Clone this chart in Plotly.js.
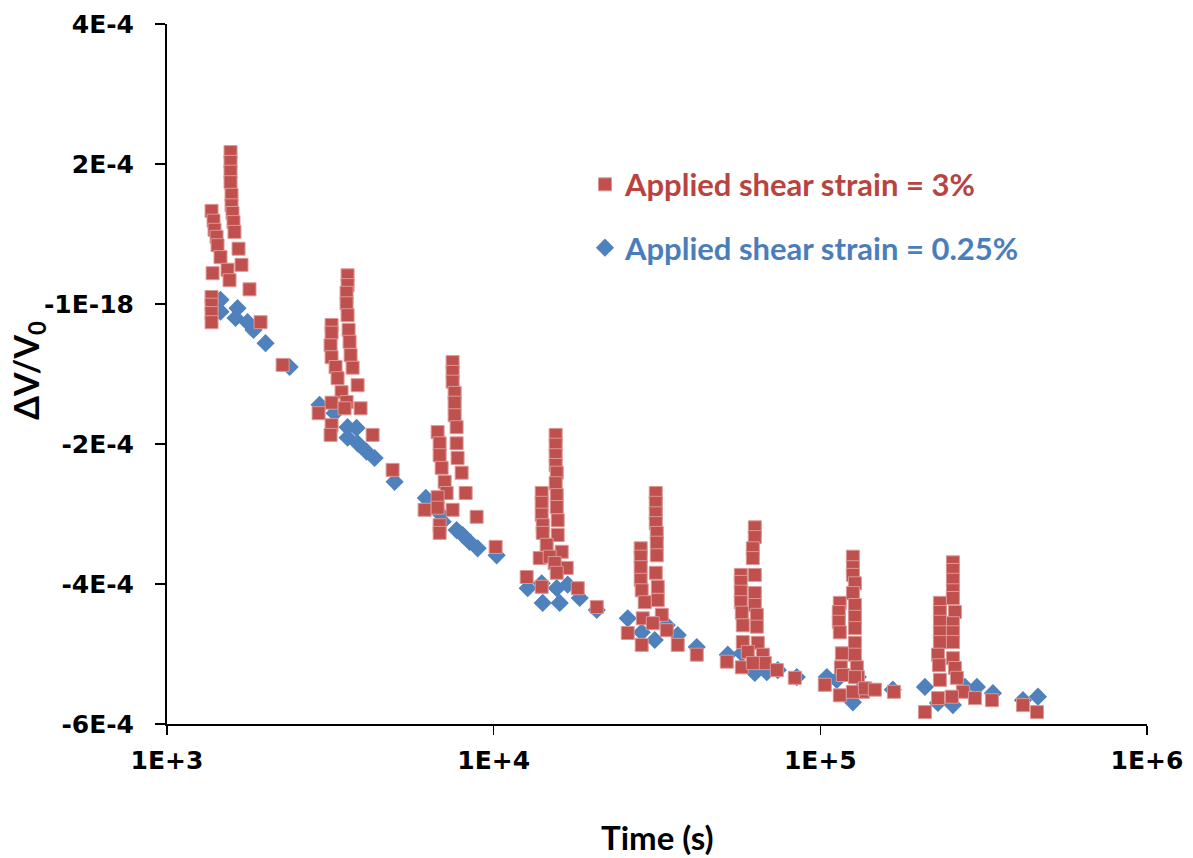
<!DOCTYPE html>
<html>
<head>
<meta charset="utf-8">
<script src="https://cdn.plot.ly/plotly-3.0.1.min.js"></script>
<style>html,body{margin:0;padding:0;background:#fff;}#chart{width:1193px;height:858px;}</style>
</head>
<body>
<div id="chart"></div>
<script>
// Applied shear strain = 3% (red squares): time (s) and dV/V0
const redTime = [
  1565,1565,1565,1565,1576,1576,1587,1598,1609,1656,1691,1789,1934,2259,
  1369,1388,1398,1418,1428,1458,1532,1554,1379,1369,1369,1369,1369,
  3571,3571,3546,3546,3571,3597,3622,3648,3700,3833,
  3190,3190,3168,3190,3281,3328,3423,3190,3546,2911,3496,3914,3190,3168,4260,4905,
  7487,7487,7487,7595,7595,7595,7701,7701,7754,7980,8208,8869,10141,
  6737,6833,6833,6930,7078,7178,6737,6146,6737,7487,6833,6833,
  15480,15480,15480,15480,15596,15480,15596,15596,15704,15704,16155,16735,18089,20680,
  14028,14028,14028,14128,14128,14530,13833,14841,15373,15596,12620,14028,
  31350,31350,31350,31350,31570,31570,31570,31350,31790,31790,32700,33880,
  28190,28190,28190,28190,28390,29000,28600,30690,25730,28390,36600,41850,
  63010,63010,62130,62130,63010,63010,63010,63900,63900,64350,66660,67610,
  57090,57090,57090,57090,57490,57890,57890,59980,51710,57490,62130,73580,83530,
  125800,125800,125800,127600,125800,127600,127600,127600,127600,127600,129400,130300,134980,
  114700,113900,113900,114700,116400,115600,117200,127600,103200,114700,125800,136900,146900,168000,
  254600,254600,254600,254600,254600,258200,254600,254600,254600,254600,258200,261800,
  232300,232300,232300,232300,232300,229100,230700,232300,273200,229100,252800,297300,335200,209000,417200,460400
];
const redDV = [
  2.17e-4,2.03e-4,1.89e-4,1.74e-4,1.56e-4,1.41e-4,1.30e-4,1.17e-4,1.03e-4,0.79e-4,0.56e-4,0.21e-4,-0.26e-4,-0.87e-4,
  1.33e-4,1.19e-4,1.06e-4,0.96e-4,0.84e-4,0.67e-4,0.49e-4,0.34e-4,0.44e-4,0.10e-4,-0.01e-4,-0.13e-4,-0.26e-4,
  0.41e-4,0.27e-4,0.16e-4,0.01e-4,-0.16e-4,-0.37e-4,-0.54e-4,-0.73e-4,-0.91e-4,-1.16e-4,
  -0.30e-4,-0.41e-4,-0.59e-4,-0.76e-4,-0.90e-4,-1.06e-4,-1.26e-4,-1.41e-4,-1.40e-4,-1.56e-4,-1.49e-4,-1.49e-4,-1.73e-4,-1.87e-4,-1.87e-4,-2.37e-4,
  -0.83e-4,-0.97e-4,-1.11e-4,-1.27e-4,-1.41e-4,-1.59e-4,-1.76e-4,-1.99e-4,-2.20e-4,-2.41e-4,-2.70e-4,-3.04e-4,-3.47e-4,
  -1.83e-4,-1.99e-4,-2.16e-4,-2.34e-4,-2.54e-4,-2.70e-4,-2.76e-4,-2.94e-4,-2.91e-4,-2.94e-4,-3.16e-4,-3.27e-4,
  -1.87e-4,-2.01e-4,-2.16e-4,-2.30e-4,-2.41e-4,-2.56e-4,-2.73e-4,-2.90e-4,-3.09e-4,-3.30e-4,-3.54e-4,-3.77e-4,-4.06e-4,-4.33e-4,
  -2.70e-4,-2.84e-4,-3.01e-4,-3.16e-4,-3.27e-4,-3.44e-4,-3.63e-4,-3.61e-4,-3.70e-4,-3.84e-4,-3.90e-4,-4.04e-4,
  -2.70e-4,-2.84e-4,-2.99e-4,-3.13e-4,-3.27e-4,-3.41e-4,-3.59e-4,-3.84e-4,-4.04e-4,-4.23e-4,-4.44e-4,-4.66e-4,
  -3.49e-4,-3.61e-4,-3.76e-4,-3.94e-4,-4.09e-4,-4.26e-4,-4.49e-4,-4.56e-4,-4.70e-4,-4.87e-4,-4.87e-4,-5.01e-4,
  -3.19e-4,-3.33e-4,-3.49e-4,-3.63e-4,-3.87e-4,-4.13e-4,-4.30e-4,-4.44e-4,-4.61e-4,-4.84e-4,-5.01e-4,-5.13e-4,
  -3.87e-4,-3.97e-4,-4.11e-4,-4.26e-4,-4.41e-4,-4.59e-4,-4.83e-4,-4.97e-4,-5.11e-4,-5.19e-4,-5.13e-4,-5.23e-4,-5.34e-4,
  -3.61e-4,-3.76e-4,-3.87e-4,-3.99e-4,-4.13e-4,-4.30e-4,-4.47e-4,-4.63e-4,-4.84e-4,-5.01e-4,-5.19e-4,-5.33e-4,-5.54e-4,
  -4.27e-4,-4.40e-4,-4.54e-4,-4.69e-4,-4.99e-4,-5.19e-4,-5.30e-4,-5.33e-4,-5.44e-4,-5.59e-4,-5.54e-4,-5.49e-4,-5.51e-4,-5.54e-4,
  -3.69e-4,-3.80e-4,-3.94e-4,-4.09e-4,-4.20e-4,-4.40e-4,-4.56e-4,-4.69e-4,-4.83e-4,-5.06e-4,-5.20e-4,-5.34e-4,
  -4.27e-4,-4.40e-4,-4.54e-4,-4.69e-4,-4.83e-4,-5.01e-4,-5.16e-4,-5.37e-4,-5.54e-4,-5.63e-4,-5.61e-4,-5.63e-4,-5.66e-4,-5.83e-4,-5.73e-4,-5.83e-4
];

// Applied shear strain = 0.25% (blue diamonds)
const blueTime = [
  1458,1458,1644,1621,1764,1840,2003,2373,
  2931,3258,3571,3805,3571,3833,4083,4320,4975,6200,
  6833,6980,7701,8035,8443,8933,10214,
  12710,14028,15596,16854,14128,15928,18345,20680,25730,
  28390,31130,33880,36600,41850,52080,
  57490,63010,68560,74100,84720,104700,
  112300,125800,130300,166700,
  209000,229100,254600,277100,301500,337600,417200,463700
];
const blueDV = [
  0.06e-4,-0.11e-4,-0.06e-4,-0.20e-4,-0.26e-4,-0.37e-4,-0.56e-4,-0.90e-4,
  -1.44e-4,-1.56e-4,-1.76e-4,-1.77e-4,-1.91e-4,-1.99e-4,-2.11e-4,-2.20e-4,-2.54e-4,-2.77e-4,
  -2.99e-4,-3.11e-4,-3.23e-4,-3.30e-4,-3.40e-4,-3.49e-4,-3.59e-4,
  -4.06e-4,-3.99e-4,-4.06e-4,-4.01e-4,-4.27e-4,-4.27e-4,-4.20e-4,-4.37e-4,-4.49e-4,
  -4.69e-4,-4.80e-4,-4.59e-4,-4.73e-4,-4.90e-4,-5.01e-4,
  -4.99e-4,-5.27e-4,-5.26e-4,-5.23e-4,-5.33e-4,-5.33e-4,
  -5.37e-4,-5.69e-4,-5.33e-4,-5.51e-4,
  -5.47e-4,-5.70e-4,-5.73e-4,-5.47e-4,-5.47e-4,-5.56e-4,-5.66e-4,-5.61e-4
];

const yTickVals = [-6e-4,-4e-4,-2e-4,0,2e-4,4e-4];
const yTickText = ['-6E-4','-4E-4','-2E-4','-1E-18','2E-4','4E-4'];
const xTickVals = [1e3,1e4,1e5,1e6];
const xTickText = ['1E+3','1E+4','1E+5','1E+6'];

const redName = 'Applied shear strain = 3%';
const blueName = 'Applied shear strain = 0.25%';

const traces = [
  {
    x: blueTime, y: blueDV, type: 'scatter', mode: 'markers',
    name: '<span style="color:#4A7EBB">' + blueName + '</span>',
    legendgroup: 'b', legendrank: 2,
    marker: {symbol: 'diamond', size: 14, color: '#4F81BD', line: {width: 0}}
  },
  {
    x: redTime, y: redDV, type: 'scatter', mode: 'markers',
    name: '<span style="color:#B8433F">' + redName + '</span>',
    legendgroup: 'a', legendrank: 1,
    marker: {symbol: 'square', size: 13, color: '#C0504D', line: {width: 1, color: '#DC9795'}}
  }
];

const tickFont = {family: 'DejaVu Sans', size: 25, color: '#000', weight: 'bold'};

const layout = {
  width: 1193, height: 858,
  margin: {l: 167, r: 46, t: 24, b: 134},
  paper_bgcolor: '#fff', plot_bgcolor: '#fff',
  showlegend: true,
  legend: {
    x: 0.4265, y: 0.809, xanchor: 'left', yanchor: 'top',
    font: {family: 'Lato', size: 31, weight: 'bold'},
    bgcolor: 'rgba(0,0,0,0)', tracegroupgap: 20, traceorder: 'grouped'
  },
  xaxis: {
    type: 'log', range: [3, 6],
    tickvals: xTickVals, ticktext: xTickText,
    ticks: 'outside', ticklen: 9, tickwidth: 1.5, tickcolor: '#000',
    showline: true, linecolor: '#000', linewidth: 2,
    showgrid: false, zeroline: false, mirror: false,
    tickfont: tickFont, ticklabelstandoff: 4
  },
  yaxis: {
    range: [-6e-4, 4e-4],
    tickvals: yTickVals, ticktext: yTickText,
    ticks: 'outside', ticklen: 10, tickwidth: 1.5, tickcolor: '#000',
    showline: true, linecolor: '#000', linewidth: 2,
    showgrid: false, zeroline: false, mirror: false,
    tickfont: tickFont, ticklabelstandoff: 16
  },
  annotations: [
    {
      text: 'Time (s)', xref: 'paper', yref: 'paper', x: 0.5, y: -0.162,
      xanchor: 'center', yanchor: 'middle', showarrow: false,
      font: {family: 'Lato', size: 33, weight: 'bold', color: '#000'}
    },
    {
      text: '\u0394V/V<sub>0</sub>', xref: 'paper', yref: 'paper', x: -0.142, y: 0.506,
      xanchor: 'center', yanchor: 'middle', showarrow: false, textangle: -90,
      font: {family: 'Lato', size: 34, weight: 'bold', color: '#000'}
    }
  ]
};

Plotly.newPlot('chart', traces, layout, {staticPlot: true, displayModeBar: false});
</script>
</body>
</html>
